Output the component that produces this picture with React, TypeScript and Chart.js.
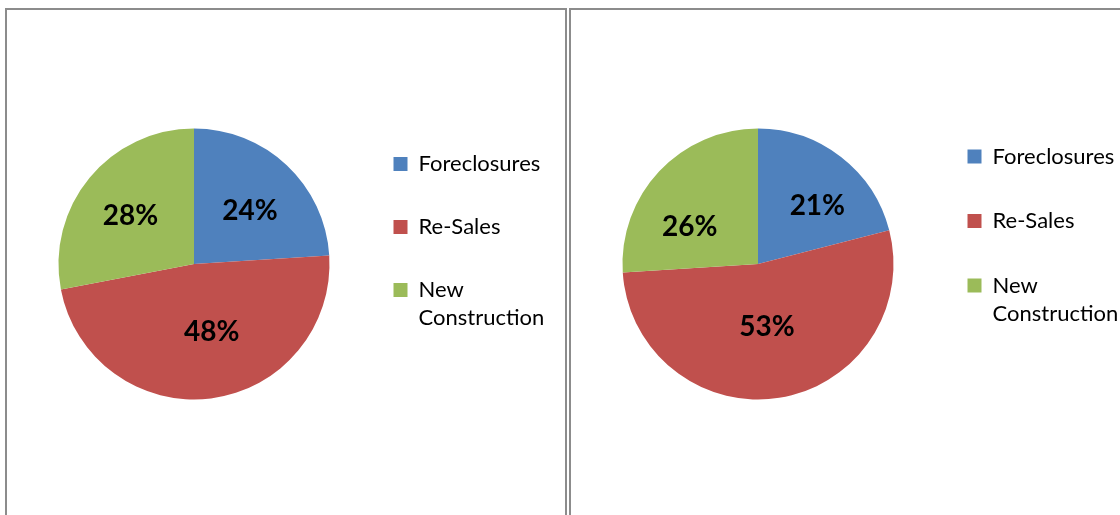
import React, { useEffect, useRef } from "react";
import { Chart, registerables } from "chart.js";

Chart.register(...registerables);

// ---- data ----
const categories: (string | string[])[] = ["Foreclosures", "Re-Sales", ["New", "Construction"]];
const leftValues = [24, 48, 28];
const rightValues = [21, 53, 26];
const sliceColors = ["#4F81BD", "#C0504D", "#9BBB59"];

type PanelCfg = {
  values: number[];
  left: number;
  width: number;
  pad: { top: number; bottom: number; left: number; right: number };
  legendPad: number;
  legendWidth: number;
  titleGap: number;
  nudges: [number, number][];
};

const labelPlugin = {
  id: "pctLabels",
  afterDatasetsDraw(chart: any) {
    const ctx = chart.ctx;
    const meta = chart.getDatasetMeta(0);
    const ds = chart.data.datasets[0];
    const nudges: [number, number][] = chart.options.plugins.pctLabels?.nudges || [];
    const total = (ds.data as number[]).reduce((a, b) => a + b, 0);
    ctx.save();
    ctx.font = "bold 28px Lato, 'Open Sans', sans-serif";
    ctx.fillStyle = "#000";
    ctx.textAlign = "center";
    ctx.textBaseline = "middle";
    meta.data.forEach((arc: any, i: number) => {
      const p = arc.getProps(["x", "y", "startAngle", "endAngle", "outerRadius"], true);
      const mid = (p.startAngle + p.endAngle) / 2;
      const r = p.outerRadius * 0.57;
      const n = nudges[i] || [0, 0];
      const x = p.x + Math.cos(mid) * r + n[0];
      const y = p.y + Math.sin(mid) * r + n[1];
      const v = (ds.data[i] as number) / total * 100;
      ctx.fillText(Math.round(v) + "%", x, y);
    });
    ctx.restore();
  },
};

function PiePanel({ cfg }: { cfg: PanelCfg }) {
  const ref = useRef<HTMLCanvasElement | null>(null);
  useEffect(() => {
    if (!ref.current) return;
    const chart = new Chart(ref.current, {
      type: "pie",
      data: {
        labels: categories as any,
        datasets: [
          {
            data: cfg.values,
            backgroundColor: sliceColors,
            borderWidth: 0,
            radius: 135.5,
          } as any,
        ],
      },
      options: {
        responsive: false,
        animation: false,
        layout: { padding: cfg.pad },
        plugins: {
          tooltip: { enabled: false },
          legend: {
            position: "right",
            align: "start",
            maxWidth: cfg.legendWidth,
            title: {
              display: true,
              text: "",
              font: { size: 10, lineHeight: 1 },
              padding: { top: cfg.titleGap - 10, bottom: 0 },
            },
            labels: {
              boxWidth: 14,
              boxHeight: 14,
              padding: cfg.legendPad,
              color: "#000",
              font: { family: "Lato, 'Open Sans', sans-serif", size: 22, lineHeight: 28 / 22 },
            },
          },
          pctLabels: { nudges: cfg.nudges },
        } as any,
      },
      plugins: [labelPlugin],
    });
    return () => chart.destroy();
  }, [cfg]);
  return (
    <canvas
      ref={ref}
      width={cfg.width}
      height={505}
      style={{ position: "absolute", left: cfg.left, top: 10, width: cfg.width, height: 505, display: "block" }}
    />
  );
}

// left chart: canvas x 7; pie centre canvas 187; legend left canvas 345.5
const leftCfg: PanelCfg = {
  values: leftValues,
  left: 7,
  width: 600,
  pad: { top: 20, bottom: 17, left: 28.5, right: 600 - 345.5 - 196 },
  legendPad: 41,
  legendWidth: 196,
  titleGap: 82,
  nudges: [[3, 3], [8, -9], [-4, 1]],
};

// right chart: canvas x 571; pie centre canvas 187; legend left canvas 354
const rightCfg: PanelCfg = {
  values: rightValues,
  left: 571,
  width: 640,
  pad: { top: 20, bottom: 17, left: 20, right: 640 - 354 - 198 },
  legendPad: 42.5,
  legendWidth: 198,
  titleGap: 73,
  nudges: [[12, 3], [-3, -13], [-12, 16]],
};

export default function App() {
  return (
    <div
      style={{
        position: "absolute",
        left: 0,
        top: 0,
        width: 1120,
        height: 515,
        overflow: "hidden",
        background: "#fff",
      }}
    >
      <div
        style={{
          position: "absolute",
          left: 5,
          top: 8,
          width: 562,
          height: 600,
          boxSizing: "border-box",
          border: "2px solid #8c8c8c",
        }}
      />
      <div
        style={{
          position: "absolute",
          left: 569,
          top: 8,
          width: 700,
          height: 600,
          boxSizing: "border-box",
          border: "2px solid #8c8c8c",
        }}
      />
      <PiePanel cfg={leftCfg} />
      <PiePanel cfg={rightCfg} />
    </div>
  );
}
